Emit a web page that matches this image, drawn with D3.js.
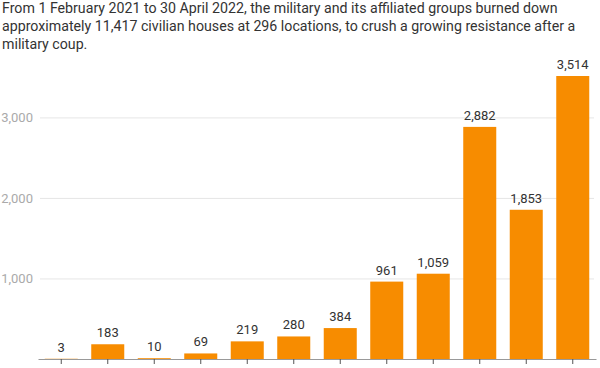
<!DOCTYPE html>
<html><head><meta charset="utf-8">
<script src="https://cdn.jsdelivr.net/npm/d3@7"></script>
<style>
body{margin:0;background:#fff;}
svg{display:block;font-family:Roboto,"Noto Sans",sans-serif;}
</style></head>
<body><svg id="c" width="600" height="368"></svg>
<script>
const titleLines = [
  "From 1 February 2021 to 30 April 2022, the military and its affiliated groups burned down",
  "approximately 11,417 civilian houses at 296 locations, to crush a growing resistance after a",
  "military coup."
];
const categories = ["1","2","3","4","5","6","7","8","9","10","11","12"];
const values = [3,183,10,69,219,280,384,961,1059,2882,1853,3514];
const yTicks = [1000,2000,3000];

const svg = d3.select("#c");
const W = 600, H = 368;
const m = {left:38, right:4, top:76, bottom:9};

svg.append("g").selectAll("text").data(titleLines).join("text")
  .attr("x", 2).attr("y", (d,i)=>13 + i*18)
  .attr("font-size", 14.2).attr("fill", "#333")
  .text(d=>d);

const x = d3.scaleBand().domain(categories).range([m.left, W - m.right]).paddingInner(0.29).paddingOuter(0.145);
const y = d3.scaleLinear().domain([0, 3514]).range([H - m.bottom, m.top]);

// gridlines + labels
const yAxis = svg.append("g").attr("transform", `translate(${m.left+2},0)`)
  .call(d3.axisLeft(y).tickValues(yTicks).tickSize(-(W - m.right - m.left - 4)).tickFormat(d3.format(",")).tickPadding(7));
yAxis.select(".domain").remove();
yAxis.selectAll(".tick line").attr("stroke", "#e6e6e6").attr("stroke-width", 1);
yAxis.selectAll(".tick text").attr("fill", "#aaa").attr("font-size", 13).attr("font-family", "Roboto,'Noto Sans',sans-serif");

// bars
svg.append("g").selectAll("rect").data(values).join("rect")
  .attr("x", (d,i)=>x(categories[i]))
  .attr("width", x.bandwidth())
  .attr("y", d=>y(d))
  .attr("height", d=>y(0)-y(d))
  .attr("fill", "#f78c00");

// value labels
svg.append("g").selectAll("text").data(values).join("text")
  .attr("x", (d,i)=>x(categories[i]) + x.bandwidth()/2)
  .attr("y", d=>y(d) - 7)
  .attr("text-anchor", "middle")
  .attr("font-size", 13).attr("fill", "#333")
  .text(d=>d3.format(",")(d));

// x axis
const xAxis = svg.append("g").attr("transform", `translate(0,${y(0)})`)
  .call(d3.axisBottom(x).tickFormat("").tickSize(5).tickSizeOuter(0));
xAxis.select(".domain").attr("stroke", "#999");
xAxis.selectAll(".tick line").attr("stroke", "#555");
</script></body></html>
